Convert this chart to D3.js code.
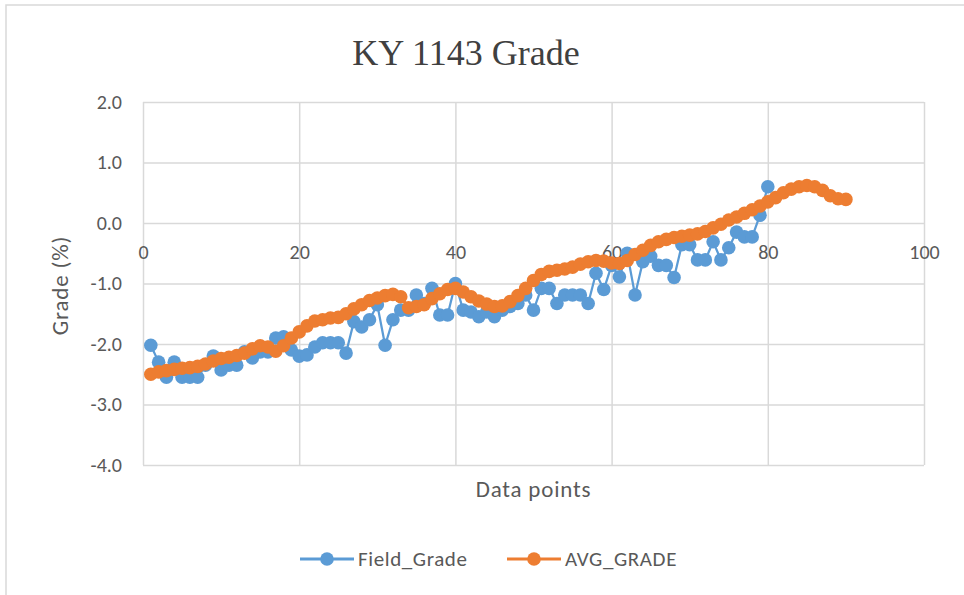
<!DOCTYPE html>
<html>
<head>
<meta charset="utf-8">
<script src="https://cdn.jsdelivr.net/npm/d3@7"></script>
<style>
  body { margin: 0; background: #fff; }
  text { font-family: Carlito, Lato, "Open Sans", sans-serif; fill: #595959; }
</style>
</head>
<body>
<svg id="chart" width="964" height="595"></svg>
<script>
// ---- data ----
const fieldGrade = [
  -2.02, -2.30, -2.55, -2.30, -2.55, -2.55, -2.55, -2.35, -2.20, -2.43,
  -2.35, -2.35, -2.13, -2.23, -2.13, -2.13, -1.90, -1.88, -2.10, -2.20,
  -2.18, -2.05, -1.98, -1.98, -1.98, -2.15, -1.63, -1.72, -1.60, -1.35,
  -2.02, -1.60, -1.44, -1.44, -1.19, -1.33, -1.08, -1.52, -1.52, -1.00,
  -1.44, -1.47, -1.55, -1.47, -1.55, -1.44, -1.38, -1.33, -1.19, -1.44,
  -1.08, -1.08, -1.33, -1.19, -1.19, -1.19, -1.33, -0.83, -1.10, -0.70,
  -0.89, -0.50, -1.19, -0.64, -0.55, -0.70, -0.70, -0.90, -0.36, -0.36,
  -0.61, -0.61, -0.31, -0.61, -0.41, -0.15, -0.23, -0.23, 0.13, 0.60
];
const avgGrade = [
  -2.50, -2.46, -2.44, -2.42, -2.40, -2.39, -2.37, -2.33, -2.28, -2.24,
  -2.22, -2.19, -2.15, -2.08, -2.03, -2.05, -2.12, -2.03, -1.90, -1.80,
  -1.70, -1.62, -1.60, -1.57, -1.56, -1.50, -1.42, -1.35, -1.28, -1.24,
  -1.20, -1.18, -1.22, -1.40, -1.38, -1.35, -1.25, -1.17, -1.10, -1.08,
  -1.14, -1.22, -1.29, -1.34, -1.38, -1.37, -1.30, -1.20, -1.08, -0.95,
  -0.85, -0.80, -0.78, -0.76, -0.73, -0.68, -0.64, -0.62, -0.63, -0.66,
  -0.67, -0.62, -0.52, -0.45, -0.37, -0.31, -0.27, -0.24, -0.22, -0.20,
  -0.18, -0.14, -0.08, -0.02, 0.05, 0.10, 0.16, 0.22, 0.28, 0.35,
  0.42, 0.50, 0.56, 0.60, 0.62, 0.60, 0.54, 0.45, 0.40, 0.39
];
const xTicks = [0, 20, 40, 60, 80, 100];
const yTicks = [2, 1, 0, -1, -2, -3, -4];
const seriesNames = ["Field_Grade", "AVG_GRADE"];
const seriesColors = ["#5b9bd5", "#ed7d31"];

// ---- layout ----
const svg = d3.select("#chart");
const plot = { left: 143, right: 924, top: 102, bottom: 465 };

const x = d3.scaleLinear().domain([0, 100]).range([plot.left, plot.right]);
const y = d3.scaleLinear().domain([-4, 2]).range([plot.bottom, plot.top]);

// chart frame
svg.append("rect")
  .attr("x", 6).attr("y", 5).attr("width", 1000).attr("height", 700)
  .attr("fill", "none").attr("stroke", "#d9d9d9").attr("stroke-width", 1.5);

// title
svg.append("text")
  .attr("x", 466).attr("y", 65)
  .attr("text-anchor", "middle")
  .style("font-family", "'Liberation Serif', 'Times New Roman', serif")
  .style("font-size", "36px")
  .style("fill", "#404040")
  .text("KY 1143  Grade");

// gridlines
const gx = svg.append("g")
  .attr("transform", `translate(0,${plot.bottom})`)
  .call(d3.axisBottom(x).tickValues(xTicks).tickSize(-(plot.bottom - plot.top)).tickFormat(""));
const gy = svg.append("g")
  .attr("transform", `translate(${plot.left},0)`)
  .call(d3.axisLeft(y).tickValues(yTicks).tickSize(-(plot.right - plot.left)).tickFormat(""));
[gx, gy].forEach(g => {
  g.select(".domain").remove();
  g.selectAll("line").attr("stroke", "#d9d9d9").attr("stroke-width", 1.5);
});

// y tick labels (plain hyphen minus, like the original)
const yl = svg.append("g")
  .attr("transform", `translate(${plot.left},0)`)
  .call(d3.axisLeft(y).tickValues(yTicks).tickSize(0).tickPadding(21).tickFormat(d => d.toFixed(1)));
yl.select(".domain").remove();
yl.selectAll("text").style("font-size", "20px").style("fill", "#595959");

// x tick labels sit under the zero line
const xl = svg.append("g")
  .attr("transform", `translate(0,${y(0)})`)
  .call(d3.axisBottom(x).tickValues(xTicks).tickSize(0).tickPadding(22));
xl.select(".domain").remove();
xl.selectAll("text").style("font-size", "20px").style("fill", "#595959");

// axis titles
svg.append("text")
  .attr("transform", `translate(68,${(plot.top + plot.bottom) / 2 + 2}) rotate(-90)`)
  .attr("text-anchor", "middle")
  .style("font-size", "23px")
  .style("letter-spacing", "0.8px")
  .text("Grade (%)");
svg.append("text")
  .attr("x", (plot.left + plot.right) / 2).attr("y", 497)
  .attr("text-anchor", "middle")
  .style("font-size", "23px")
  .style("letter-spacing", "0.8px")
  .text("Data points");

// series
const line = d3.line().x((d, i) => x(i + 1)).y(d => y(d));
[fieldGrade, avgGrade].forEach((data, k) => {
  const g = svg.append("g");
  g.append("path")
    .datum(data)
    .attr("d", line)
    .attr("fill", "none")
    .attr("stroke", seriesColors[k])
    .attr("stroke-width", k === 0 ? 2.25 : 3)
    .attr("stroke-linejoin", "round");
  g.selectAll("circle")
    .data(data)
    .join("circle")
    .attr("cx", (d, i) => x(i + 1))
    .attr("cy", d => y(d))
    .attr("r", 6.8)
    .attr("fill", seriesColors[k]);
});

// legend
const legendItems = [
  { name: seriesNames[0], color: seriesColors[0], x0: 300 },
  { name: seriesNames[1], color: seriesColors[1], x0: 507 }
];
const lg = svg.append("g").attr("transform", "translate(0,559)");
legendItems.forEach(it => {
  lg.append("line")
    .attr("x1", it.x0).attr("x2", it.x0 + 54)
    .attr("stroke", it.color).attr("stroke-width", 3);
  lg.append("circle")
    .attr("cx", it.x0 + 27).attr("r", 6.8).attr("fill", it.color);
  lg.append("text")
    .attr("x", it.x0 + 58).attr("dy", "0.35em")
    .style("font-size", "21px")
    .style("letter-spacing", "0.6px")
    .text(it.name);
});
</script>
</body>
</html>
